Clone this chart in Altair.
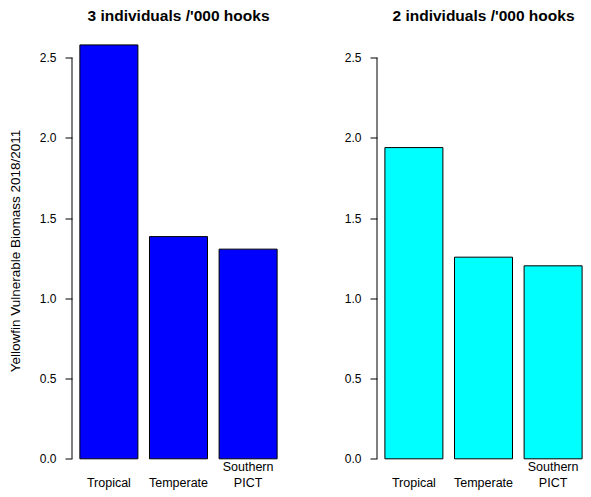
import altair as alt
import pandas as pd

regions = ["Tropical", "Temperate", "Southern PICT"]
biomass_3 = [2.58, 1.385, 1.307]
biomass_2 = [1.94, 1.257, 1.203]
titles = ["3 individuals /'000 hooks", "2 individuals /'000 hooks"]
colors = ["#0000FF", "#00FFFF"]
y_ticks = [0.0, 0.5, 1.0, 1.5, 2.0, 2.5]
y_title = "Yellowfin Vulnerable Biomass 2018/2011"

FONT = "Liberation Sans"


def panel(values, color, title, show_ytitle, view_w, pad_outer, align, title_dx):
    df = pd.DataFrame({"region": regions, "value": values})
    yaxis_kwargs = dict(
        values=y_ticks, format=".1f", domain=False, grid=False,
        tickSize=7, tickColor="black", tickWidth=1,
        labelPadding=9, labelFontSize=12, labelColor="black", labelFont=FONT,
        titleFontSize=13.5, titleFontWeight="normal", titleColor="black",
        titleFont=FONT, titlePadding=16.7,
    )
    if show_ytitle:
        yaxis = alt.Axis(title=y_title, **yaxis_kwargs)
    else:
        yaxis = alt.Axis(title=None, **yaxis_kwargs)
    yscale = alt.Scale(domain=[-0.104, 2.701], nice=False, zero=False)
    bars = alt.Chart(df).mark_bar(
        color=color, stroke="black", strokeWidth=1
    ).encode(
        x=alt.X(
            "region:N", sort=regions,
            scale=alt.Scale(paddingInner=1 / 6, paddingOuter=pad_outer,
                            align=align),
            axis=alt.Axis(
                title=None, domain=False, ticks=False, labelAngle=0,
                labelFontSize=12.5, labelFont=FONT, labelColor="black",
                labelPadding=-5, labelBaseline="alphabetic", labelLineHeight=16,
                labelExpr="datum.label == 'Southern PICT' ? ['Southern', 'PICT'] : ['', datum.label]",
            ),
        ),
        y=alt.Y("value:Q", scale=yscale, axis=yaxis),
    )
    rule_df = pd.DataFrame({"lo": [y_ticks[0]], "hi": [y_ticks[-1]]})
    rule = alt.Chart(rule_df).mark_rule(color="black", strokeWidth=1).encode(
        y=alt.Y("lo:Q", scale=yscale, axis=yaxis), y2="hi:Q", x=alt.value(0)
    )
    return alt.layer(bars, rule).properties(
        width=view_w, height=450,
        title=alt.TitleParams(
            title, fontSize=15.5, fontWeight="bold", font=FONT, color="black",
            anchor="middle", baseline="alphabetic", offset=-11, dx=title_dx,
        ),
    )


chart = alt.hconcat(
    panel(biomass_3, colors[0], titles[0], True, 213, 0.1133, 0.5, 0),
    panel(biomass_2, colors[1], titles[1], False, 206, 0.0632, 0.898, 3.5),
    spacing=59,
).properties(
    padding={"left": 0, "top": 0.5, "right": 0, "bottom": 0}
).configure(font=FONT).configure_view(stroke=None)

chart.save("out.html", embed_options={"renderer": "svg", "actions": False})
